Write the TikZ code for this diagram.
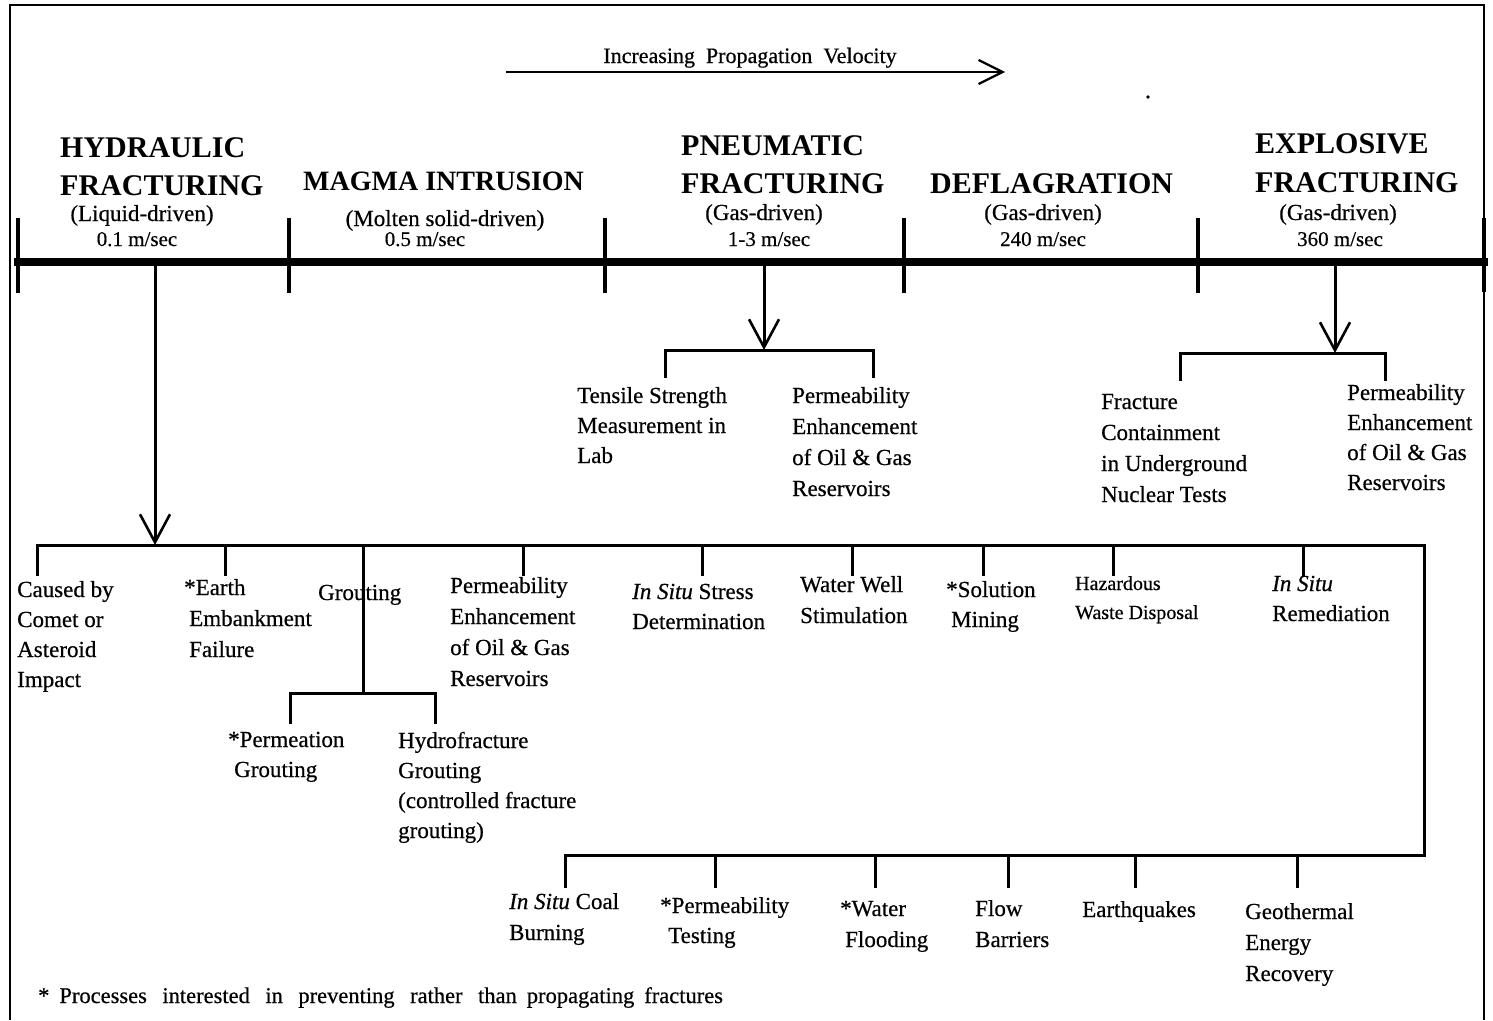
\documentclass[tikz,border=0pt]{standalone}
\usepackage{fontspec}
\setmainfont{Liberation Serif}[UprightFeatures={FakeBold=0.5},ItalicFeatures={FakeBold=0.5}]
\usetikzlibrary{arrows.meta}

% multi-line left-aligned label whose baseline is that of its first line
\newcommand\ml[1]{\begin{tabular}[t]{@{}l@{}}#1\end{tabular}}
% word gaps of the footnote
\newcommand\gw{\hspace{15.5pt}}
\newcommand\gn{\hspace{10pt}}

\begin{document}
\begin{tikzpicture}[x=1pt,y=-1pt,
  frame/.style={line width=2.4pt},
  axis/.style={line width=8pt},
  axtick/.style={line width=3.5pt},
  wire/.style={line width=3pt},
  vee/.style={-{Straight Barb[length=28pt,width=30pt,line width=2.6pt]}},
  ttl/.style={anchor=base west,inner sep=0pt,font=\bfseries\fontsize{30}{36}\selectfont},
  sub/.style={anchor=base,inner sep=0pt,font=\fontsize{23}{28}\selectfont},
  vel/.style={anchor=base,inner sep=0pt,font=\fontsize{21}{25}\selectfont},
  item/.style={anchor=base west,inner sep=0pt,font=\fontsize{23}{30}\selectfont},
  itemw/.style={anchor=base west,inner sep=0pt,font=\fontsize{23}{31}\selectfont},
  small/.style={anchor=base west,inner sep=0pt,font=\fontsize{20}{29}\selectfont},
]
\useasboundingbox (0,0) rectangle (1493,1020);

% outer frame (open at the bottom)
\draw[frame] (10,1020) -- (10,5) -- (1484,5) -- (1484,1020);

% velocity arrow
\node[anchor=base,inner sep=0pt,font=\fontsize{22}{26}\selectfont] (velo) at (750,63)
  {Increasing\ \ Propagation\ \ Velocity};
\coordinate (va) at (506,72);
\coordinate (vb) at (1005,72);
\draw[line width=2.2pt,-{Straight Barb[length=24pt,width=24pt,line width=2.2pt]}] (va) -- (vb);
\fill (1148,97) circle (1.8);

% main axis with category ticks
\draw[axis] (14,262) -- (1488,262);
\foreach \x/\n in {18/t0,289/t1,605/t2,904/t3,1198/t4} {
  \coordinate (\n) at (\x,262);
  \draw[axtick] (\x,218) -- (\x,293);
}
\draw[line width=4.5pt] (1484,218) -- (1484,292);

% category headings
\node[ttl] (hyd1) at (60,157) {HYDRAULIC};
\node[ttl] (hyd2) at (60,195) {FRACTURING};
\node[sub] (hyd3) at (142,221) {(Liquid-driven)};
\node[vel] (hyd4) at (137,246) {0.1 m/sec};

\node[ttl,font=\bfseries\fontsize{28}{34}\selectfont] (mag1) at (303,190) {MAGMA INTRUSION};
\node[sub] (mag3) at (445,226) {(Molten solid-driven)};
\node[vel] (mag4) at (425,246) {0.5 m/sec};

\node[ttl] (pne1) at (681,155) {PNEUMATIC};
\node[ttl] (pne2) at (681,193) {FRACTURING};
\node[sub] (pne3) at (764,220) {(Gas-driven)};
\node[vel] (pne4) at (769,246) {1-3 m/sec};

\node[ttl] (def1) at (930,193) {DEFLAGRATION};
\node[sub] (def3) at (1043,220) {(Gas-driven)};
\node[vel] (def4) at (1043,246) {240 m/sec};

\node[ttl] (exp1) at (1255,153) {EXPLOSIVE};
\node[ttl] (exp2) at (1255,192) {FRACTURING};
\node[sub] (exp3) at (1338,220) {(Gas-driven)};
\node[vel] (exp4) at (1340,246) {360 m/sec};

% ---------- pneumatic fracturing branch ----------
\coordinate (pstem) at (764,266);
\coordinate (pbus) at (764,350);
\draw[wire,vee] (pstem) -- (pbus);
\draw[wire] (665,378) -- (665,350) -- (873,350) -- (873,378);
\node[item] (tensile) at (577,403) {\ml{Tensile Strength\\Measurement in\\Lab}};
\node[itemw] (pperm) at (792,403) {\ml{Permeability\\Enhancement\\of Oil \& Gas\\Reservoirs}};

% ---------- explosive fracturing branch ----------
\coordinate (estem) at (1335,266);
\coordinate (ebus) at (1335,353);
\draw[wire,vee] (estem) -- (ebus);
\draw[wire] (1180,381) -- (1180,353) -- (1385,353) -- (1385,381);
\node[itemw] (fract) at (1101,409) {\ml{Fracture\\Containment\\in Underground\\Nuclear Tests}};
\node[item] (eperm) at (1347,400) {\ml{Permeability\\Enhancement\\of Oil \& Gas\\Reservoirs}};

% ---------- hydraulic fracturing applications ----------
\coordinate (hstem) at (155,266);
\coordinate (hbus) at (155,545);
\draw[wire,vee] (hstem) -- (hbus);

% upper bus, right-hand return and lower bus
\draw[wire] (37,576) -- (37,545) -- (1424,545) -- (1424,855) -- (565,855) -- (565,888);
\foreach \x in {225,523,702,852,983,1113,1303}
  \draw[wire] (\x,545) -- (\x,576);
\foreach \x in {715,875,1008,1135,1297}
  \draw[wire] (\x,855) -- (\x,888);

% grouting sub-branch
\draw[wire] (363,545) -- (363,693);
\draw[wire] (290,724) -- (290,693) -- (435,693) -- (435,724);

\node[item] (comet) at (17,597) {\ml{Caused by\\Comet or\\Asteroid\\Impact}};
\node[itemw] (earth) at (184,595) {\ml{*Earth\\\hspace{5pt}Embankment\\\hspace{5pt}Failure}};
\node[item] (grout) at (318,600) {Grouting};
\node[item] (permeat) at (228,747) {\ml{*Permeation\\\hspace{6pt}Grouting}};
\node[item] (hydrofr) at (398,748) {\ml{Hydrofracture\\Grouting\\(controlled fracture\\grouting)}};
\node[itemw] (hperm) at (450,593) {\ml{Permeability\\Enhancement\\of Oil \& Gas\\Reservoirs}};
\node[item] (stress) at (632,599) {\ml{\textit{In Situ} Stress\\Determination}};
\node[itemw] (well) at (800,592) {\ml{Water Well\\Stimulation}};
\node[item] (solution) at (946,597) {\ml{*Solution\\\hspace{5pt}Mining}};
\node[small] (hazard) at (1075,590) {\ml{Hazardous\\Waste Disposal}};
\node[item] (remed) at (1272,591) {\ml{\textit{In Situ}\\Remediation}};

\node[itemw] (coal) at (509,909) {\ml{\textit{In Situ} Coal\\Burning}};
\node[item] (ptest) at (660,913) {\ml{*Permeability\\\hspace{8pt}Testing}};
\node[itemw] (flood) at (840,916) {\ml{*Water\\\hspace{5pt}Flooding}};
\node[itemw] (flow) at (975,916) {\ml{Flow\\Barriers}};
\node[item] (quake) at (1082,917) {Earthquakes};
\node[itemw] (geo) at (1245,919) {\ml{Geothermal\\Energy\\Recovery}};

% footnote
\node[anchor=base west,inner sep=0pt,font=\fontsize{22.5}{26}\selectfont] (note) at (38,1003)
  {*\gn Processes\gw interested\gw in\gw preventing\gw rather\gw than\gn propagating\gn fractures};
\end{tikzpicture}
\end{document}
